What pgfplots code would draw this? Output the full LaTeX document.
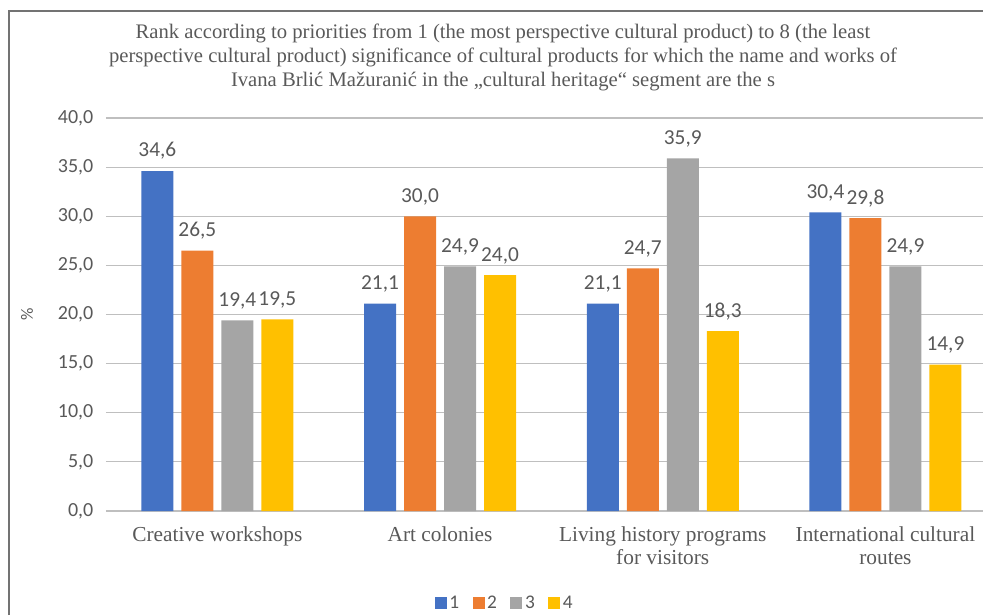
\documentclass[border=0pt]{standalone}
\usepackage{pgfplots}
\pgfplotsset{compat=1.18}
\usepackage{fontspec}
\setmainfont{Liberation Serif}
\newfontfamily\calfont{Carlito}
\definecolor{cBlue}{HTML}{4472C4}
\definecolor{cOrange}{HTML}{ED7D31}
\definecolor{cGray}{HTML}{A5A5A5}
\definecolor{cYellow}{HTML}{FFC000}
\definecolor{txt}{HTML}{595959}
\definecolor{grid}{HTML}{D9D9D9}
\pgfplotstableread{
x s1 s2 s3 s4
0 34.6 26.5 19.4 19.5
1 21.1 30.0 24.9 24.0
2 21.1 24.7 35.9 18.3
3 30.4 29.8 24.9 14.9
}\datatable
\begin{document}
\begin{tikzpicture}
\path[use as bounding box] (0,0) rectangle (737.25pt,461.25pt);
\draw[color=black!55, line width=0.9pt] (6.75pt,0pt) -- (6.75pt,453pt) -- (737.25pt,453pt);
\node[align=center, font=\fontsize{15.5}{17.8}\selectfont, text=txt] at (377.25pt,418pt)
{Rank according to priorities from 1 (the most perspective cultural product) to 8 (the least\\
perspective cultural product) significance of cultural products for which the name and works of\\
Ivana Brlić Mažuranić in the „cultural heritage“ segment are the s};
\begin{axis}[
  at={(79.5pt,78pt)}, anchor=south west,
  scale only axis, width=657.75pt, height=294.75pt,
  ybar=6pt, bar width=24pt,
  xmin=-0.5, xmax=3.438, ymin=0, ymax=40,
  ytick={0,5,...,40},
  xtick=data,
  xticklabels={Creative workshops, Art colonies, {Living history programs\\for visitors}, {International cultural\\routes}},
  xticklabel style={align=center, font=\fontsize{16}{17.25}\selectfont, text=txt, yshift=-8pt},
  yticklabel style={font=\calfont\fontsize{15}{16}\selectfont, text=txt, xshift=-6pt},
  /pgf/number format/assume math mode=true,
  yticklabel={\pgfmathprintnumber[fixed, fixed zerofill, precision=1, use comma]{\tick}},
  ymajorgrids, xmajorgrids=false, grid style={grid, line width=0.8pt},
  axis line style={draw=none},
  xtick style={draw=none}, ytick style={draw=none},
  major tick length=0pt,
  ylabel={\%}, ylabel style={at={(axis description cs:-0.09,0.5)}, anchor=center, font=\calfont\fontsize{13}{15}\selectfont, text=txt},
  nodes near coords,
  nodes near coords style={font=\calfont\fontsize{16}{18}\selectfont, text=txt, anchor=south, yshift=5pt,
    /pgf/number format/.cd, fixed, fixed zerofill, precision=1, use comma, assume math mode=true},
  legend columns=4,
  legend style={at={(axis description cs:0.455,-0.234)}, anchor=center, draw=none, fill=none,
    font=\calfont\fontsize{14.5}{16}\selectfont, text=txt,
    /tikz/every even column/.append style={column sep=8pt}},
  legend image code/.code={\fill[#1] (0pt,-4.5pt) rectangle (9pt,4.5pt);},
  clip=false,
]
\addplot[fill=cBlue, draw=none] table[x=x, y=s1] {\datatable};
\addplot[fill=cOrange, draw=none] table[x=x, y=s2] {\datatable};
\addplot[fill=cGray, draw=none] table[x=x, y=s3] {\datatable};
\addplot[fill=cYellow, draw=none] table[x=x, y=s4] {\datatable};
\legend{1,2,3,4}
\end{axis}
\end{tikzpicture}
\end{document}
